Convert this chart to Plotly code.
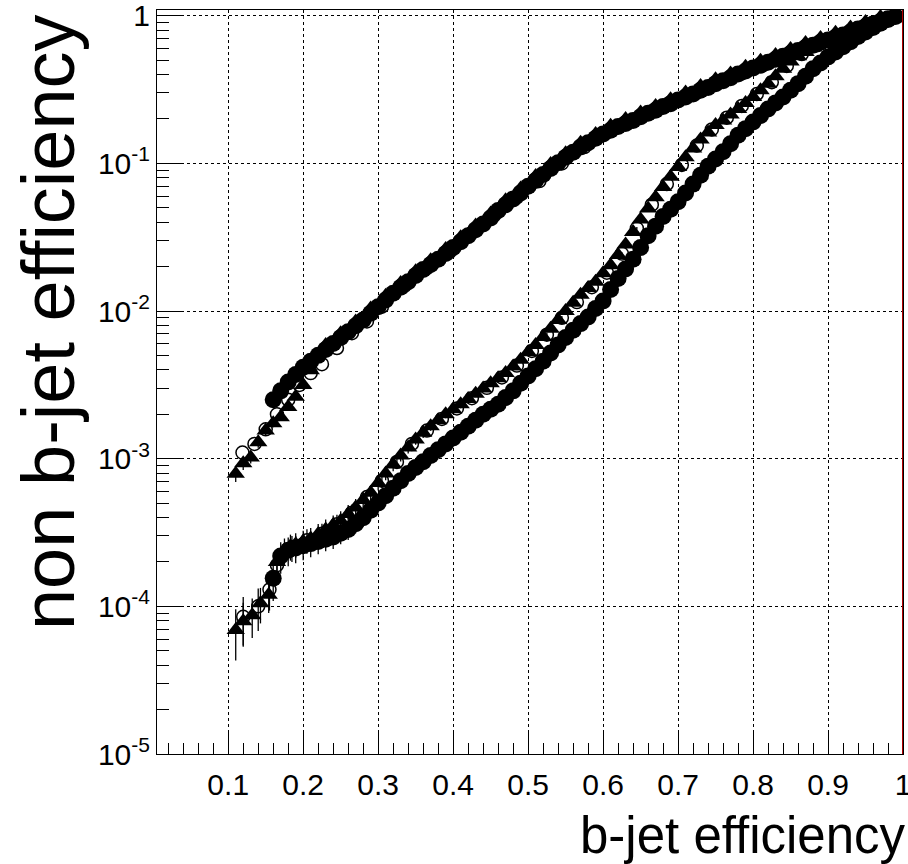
import plotly.graph_objects as go

# ---------------- data ----------------
# upper group (c-jet like curve)
c_circ_x = [0.16, 0.17, 0.18, 0.19, 0.20, 0.21, 0.22, 0.23, 0.24, 0.25, 0.26, 0.27, 0.28, 0.29,
            0.30, 0.31, 0.32, 0.33, 0.34, 0.35, 0.36, 0.37, 0.38, 0.39, 0.40, 0.41, 0.42, 0.43,
            0.44, 0.45, 0.46, 0.47, 0.48, 0.49, 0.50, 0.51, 0.52, 0.53, 0.54, 0.55, 0.56, 0.57,
            0.58, 0.59, 0.60, 0.61, 0.62, 0.63, 0.64, 0.65, 0.66, 0.67, 0.68, 0.69, 0.70, 0.71,
            0.72, 0.73, 0.74, 0.75, 0.76, 0.77, 0.78, 0.79, 0.80, 0.81, 0.82, 0.83, 0.84, 0.85,
            0.86, 0.87, 0.88, 0.89, 0.90, 0.91, 0.92, 0.93, 0.94, 0.95, 0.96, 0.97, 0.98, 0.99]
c_circ_y = [2.51e-3, 2.88e-3, 3.31e-3, 3.72e-3, 4.17e-3, 4.57e-3, 5.01e-3, 5.50e-3, 6.03e-3,
            6.61e-3, 7.24e-3, 7.94e-3, 8.71e-3, 9.66e-3, 0.0107, 0.0119, 0.0132, 0.0145, 0.0158,
            0.0174, 0.0191, 0.0207, 0.0224, 0.0245, 0.0269, 0.0295, 0.0324, 0.0355, 0.0389,
            0.0427, 0.0479, 0.0525, 0.0575, 0.0631, 0.0700, 0.0767, 0.0841, 0.0923, 0.101,
            0.110, 0.119, 0.129, 0.138, 0.148, 0.158, 0.168, 0.178, 0.186, 0.195, 0.207, 0.219,
            0.229, 0.243, 0.254, 0.269, 0.282, 0.295, 0.313, 0.327, 0.347, 0.363, 0.380, 0.403,
            0.422, 0.443, 0.462, 0.484, 0.507, 0.531, 0.556, 0.582, 0.610, 0.631, 0.661, 0.684,
            0.716, 0.741, 0.776, 0.813, 0.847, 0.881, 0.916, 0.955, 0.989]

c_tri_x = [0.11, 0.12, 0.13, 0.14, 0.15, 0.16, 0.17, 0.18, 0.19, 0.20, 0.21, 0.23, 0.25, 0.27,
           0.29, 0.31, 0.33, 0.35, 0.37, 0.39, 0.41, 0.43, 0.45, 0.47, 0.49, 0.51, 0.53, 0.55,
           0.57, 0.59, 0.61, 0.63, 0.65, 0.67, 0.69, 0.71, 0.73, 0.75, 0.77, 0.79, 0.81, 0.83,
           0.85, 0.87, 0.89, 0.91, 0.93, 0.95, 0.97]
c_tri_y = [7.9e-4, 9.3e-4, 1.02e-3, 1.29e-3, 1.55e-3, 1.74e-3, 1.91e-3, 2.24e-3, 2.63e-3, 3.16e-3,
           3.98e-3, 5.89e-3, 7.08e-3, 8.51e-3, 0.0104, 0.0127, 0.0155, 0.0186, 0.0221, 0.0263,
           0.0316, 0.0380, 0.0457, 0.0562, 0.0676, 0.0822, 0.0989, 0.117, 0.138, 0.158, 0.180,
           0.200, 0.221, 0.245, 0.272, 0.302, 0.335, 0.372, 0.407, 0.452, 0.495, 0.543, 0.596,
           0.653, 0.708, 0.767, 0.832, 0.908, 0.982]
c_tri_relerr = [0.12, 0.10, 0.09, 0.08, 0.07, 0.06, 0.05, 0.05, 0.04, 0.04, 0.04]

c_open_x = [0.119, 0.135, 0.15, 0.165, 0.18, 0.195, 0.21, 0.225, 0.245, 0.265, 0.285, 0.305,
            0.335, 0.365, 0.395, 0.425, 0.455, 0.485, 0.515, 0.545, 0.575, 0.605, 0.635, 0.665,
            0.695, 0.725, 0.755, 0.785, 0.815, 0.845, 0.875, 0.905, 0.935, 0.965, 0.985]
c_open_y = [1.10e-3, 1.26e-3, 1.58e-3, 2.0e-3, 2.51e-3, 3.16e-3, 3.80e-3, 4.37e-3, 5.62e-3,
            7.08e-3, 8.5e-3, 0.0107, 0.0148, 0.0195, 0.0251, 0.0339, 0.0447, 0.0589, 0.0759,
            0.100, 0.129, 0.162, 0.191, 0.224, 0.263, 0.302, 0.355, 0.407, 0.468, 0.537, 0.617,
            0.700, 0.794, 0.897, 0.973]

# lower group (light-jet like curve), upper branch with triangles
l_tri_x = [0.110, 0.120, 0.132, 0.143, 0.154, 0.165, 0.175, 0.183,
           0.19, 0.20, 0.21, 0.22, 0.23, 0.24, 0.25, 0.26, 0.27, 0.28, 0.29, 0.30, 0.31, 0.32,
           0.33, 0.34, 0.35, 0.36, 0.37, 0.38, 0.39, 0.40, 0.41, 0.42, 0.43, 0.44, 0.45, 0.46,
           0.47, 0.48, 0.49, 0.50, 0.51, 0.52, 0.53, 0.54, 0.55, 0.56, 0.57, 0.58, 0.59, 0.60,
           0.61, 0.62, 0.63, 0.64, 0.65, 0.66, 0.67, 0.68, 0.69, 0.70, 0.71, 0.72, 0.73, 0.74,
           0.75, 0.76, 0.77, 0.78, 0.79, 0.80, 0.81, 0.82, 0.83, 0.84, 0.85, 0.86, 0.87, 0.88,
           0.89, 0.90, 0.91, 0.92, 0.93, 0.94, 0.95, 0.96, 0.97]
l_tri_y = [6.92e-5, 7.94e-5, 8.71e-5, 1.05e-4, 1.20e-4, 2.00e-4, 2.40e-4, 2.55e-4,
           2.63e-4, 2.75e-4, 2.88e-4, 3.09e-4, 3.31e-4, 3.55e-4, 3.80e-4, 4.22e-4, 4.68e-4,
           5.25e-4, 5.89e-4, 6.84e-4, 7.94e-4, 9.12e-4, 1.05e-3, 1.19e-3, 1.35e-3, 1.50e-3,
           1.66e-3, 1.82e-3, 2.00e-3, 2.16e-3, 2.34e-3, 2.54e-3, 2.75e-3, 2.99e-3, 3.24e-3,
           3.51e-3, 3.80e-3, 4.22e-3, 4.68e-3, 5.25e-3, 5.89e-3, 6.68e-3, 7.59e-3, 8.71e-3,
           0.0100, 0.0114, 0.0129, 0.0143, 0.0158, 0.0180, 0.0204, 0.0240, 0.0282, 0.0343,
           0.0417, 0.0495, 0.0589, 0.0692, 0.0813, 0.0944, 0.110, 0.126, 0.145, 0.162, 0.182,
           0.195, 0.214, 0.234, 0.257, 0.282, 0.313, 0.347, 0.389, 0.437, 0.490, 0.531, 0.569,
           0.610, 0.646, 0.679, 0.716, 0.745, 0.776, 0.813, 0.851, 0.887, 0.923]
l_tri_relerr = [0.38, 0.33, 0.30, 0.27, 0.25, 0.22, 0.20, 0.20,
                0.19, 0.18, 0.18, 0.17, 0.17, 0.16, 0.16, 0.15, 0.14, 0.13,
                0.12, 0.11, 0.10, 0.10, 0.09, 0.09, 0.08, 0.08, 0.07, 0.07,
                0.06, 0.06, 0.06, 0.05, 0.05, 0.05, 0.05, 0.04, 0.04, 0.04,
                0.04, 0.03, 0.03, 0.03, 0.03, 0.03, 0.03, 0.02, 0.02, 0.02]

# lower group, lower branch with filled circles
l_circ_x = [0.160, 0.170,
            0.18, 0.19, 0.20, 0.21, 0.22, 0.23, 0.24, 0.25, 0.26, 0.27, 0.28, 0.29, 0.30, 0.31,
            0.32, 0.33, 0.34, 0.35, 0.36, 0.37, 0.38, 0.39, 0.40, 0.41, 0.42, 0.43, 0.44, 0.45,
            0.46, 0.47, 0.48, 0.49, 0.50, 0.51, 0.52, 0.53, 0.54, 0.55, 0.56, 0.57, 0.58, 0.59,
            0.60, 0.61, 0.62, 0.63, 0.64, 0.65, 0.66, 0.67, 0.68, 0.69, 0.70, 0.71, 0.72, 0.73,
            0.74, 0.75, 0.76, 0.77, 0.78, 0.79, 0.80, 0.81, 0.82, 0.83, 0.84, 0.85, 0.86, 0.87,
            0.88, 0.89, 0.90, 0.91, 0.92, 0.93, 0.94, 0.95, 0.96, 0.97, 0.98]
l_circ_y = [1.55e-4, 2.19e-4,
            2.40e-4, 2.48e-4, 2.57e-4, 2.66e-4, 2.75e-4, 2.85e-4, 2.95e-4, 3.13e-4, 3.31e-4,
            3.63e-4, 3.98e-4, 4.47e-4, 5.01e-4, 5.62e-4, 6.31e-4, 7.08e-4, 7.94e-4, 8.71e-4,
            9.55e-4, 1.05e-3, 1.15e-3, 1.26e-3, 1.38e-3, 1.51e-3, 1.66e-3, 1.82e-3, 2.00e-3,
            2.16e-3, 2.34e-3, 2.60e-3, 2.88e-3, 3.24e-3, 3.63e-3, 4.07e-3, 4.57e-3, 5.19e-3,
            5.89e-3, 6.61e-3, 7.41e-3, 8.22e-3, 9.12e-3, 0.0104, 0.0117, 0.0140, 0.0166, 0.0193,
            0.0224, 0.0269, 0.0324, 0.0376, 0.0437, 0.0490, 0.0550, 0.0631, 0.0724, 0.0832,
            0.0955, 0.107, 0.120, 0.136, 0.155, 0.172, 0.191, 0.211, 0.234, 0.257, 0.282, 0.313,
            0.347, 0.389, 0.437, 0.479, 0.525, 0.569, 0.617, 0.668, 0.724, 0.776, 0.832, 0.891,
            0.944]
l_circ_relerr = [0.30, 0.24,
                 0.22, 0.21, 0.20, 0.19, 0.18, 0.17, 0.17, 0.16, 0.15, 0.14,
                 0.13, 0.12, 0.11, 0.10, 0.10, 0.09, 0.09, 0.08, 0.08, 0.07,
                 0.07, 0.06, 0.06, 0.06, 0.05, 0.05, 0.05, 0.05, 0.04, 0.04,
                 0.04, 0.04, 0.03, 0.03, 0.03, 0.03, 0.03, 0.03, 0.02, 0.02]

l_open_x = [0.120, 0.140, 0.155, 0.165, 0.185, 0.205, 0.225, 0.245, 0.265, 0.285, 0.305, 0.325,
            0.345, 0.365, 0.385, 0.405, 0.425, 0.445, 0.465, 0.485, 0.505, 0.525, 0.545, 0.565,
            0.585, 0.605, 0.625, 0.645, 0.665, 0.685, 0.705, 0.725, 0.745, 0.765, 0.785, 0.805,
            0.825, 0.845, 0.865, 0.885, 0.905, 0.925, 0.945, 0.965, 0.985]
l_open_y = [8.5e-5, 1.0e-4, 1.3e-4, 1.9e-4, 2.5e-4, 2.8e-4, 3.1e-4, 3.6e-4, 4.3e-4, 5.5e-4,
            7.1e-4, 9.5e-4, 1.26e-3, 1.55e-3, 1.86e-3, 2.19e-3, 2.57e-3, 3.02e-3, 3.55e-3,
            4.27e-3, 5.37e-3, 6.92e-3, 9.0e-3, 0.0115, 0.0145, 0.0182, 0.0245, 0.0363, 0.0525,
            0.0724, 0.0977, 0.132, 0.170, 0.204, 0.245, 0.295, 0.355, 0.457, 0.550, 0.631,
            0.700, 0.759, 0.832, 0.902, 0.966]
l_open_relerr = [0.36, 0.32, 0.28, 0.24, 0.20, 0.19, 0.17, 0.16, 0.14, 0.12,
                 0.10, 0.09, 0.08, 0.07, 0.06, 0.06, 0.05, 0.05, 0.04, 0.04,
                 0.04, 0.03, 0.03, 0.03, 0.02, 0.02, 0.02, 0.02]

x_tick_vals = [0.1, 0.2, 0.3, 0.4, 0.5, 0.6, 0.7, 0.8, 0.9, 1.0]
x_tick_text = ["0.1", "0.2", "0.3", "0.4", "0.5", "0.6", "0.7", "0.8", "0.9", "1"]
y_tick_vals = [1e-5, 1e-4, 1e-3, 1e-2, 1e-1, 1]
y_tick_text = ["10<sup>-5</sup>", "10<sup>-4</sup>", "10<sup>-3</sup>",
               "10<sup>-2</sup>", "10<sup>-1</sup>", "1"]

x_title = "b-jet efficiency"
y_title = "non b-jet efficiency"

# ---------------- figure ----------------
FONT = "Liberation Sans, Arial, Helvetica, sans-serif"
fig = go.Figure()


def add(x, y, symbol, size, rel=None, open_=False):
    marker = dict(symbol=symbol, size=size, color="black")
    marker["line"] = dict(color="black", width=1.5) if open_ else dict(width=0)
    kw = {}
    if rel is not None:
        kw["error_y"] = dict(type="data", array=[a * b for a, b in zip(y, rel)],
                             symmetric=True, color="black", thickness=1.3, width=0)
    fig.add_trace(go.Scatter(x=x, y=y, mode="markers", marker=marker,
                             showlegend=False, hoverinfo="skip", **kw))


# lower group
add(l_circ_x, l_circ_y, "circle", 17, l_circ_relerr)
add(l_open_x, l_open_y, "circle-open", 13, l_open_relerr, open_=True)
add(l_tri_x, l_tri_y, "triangle-up", 16, l_tri_relerr)
# upper group
add(c_circ_x, c_circ_y, "circle", 17)
add(c_tri_x, c_tri_y, "triangle-up", 16, c_tri_relerr)
add(c_open_x, c_open_y, "circle-open", 13, open_=True)

minor_y = [k * 10.0 ** n for n in range(-5, 0) for k in range(2, 10)]

fig.update_layout(
    width=908, height=864,
    margin=dict(l=157, r=5, t=10, b=110),
    paper_bgcolor="white", plot_bgcolor="white",
    font=dict(family=FONT, color="black"),
    xaxis=dict(
        range=[0.005, 1.0], showline=True, linecolor="black", linewidth=1, mirror=True,
        automargin=False, ticklabeloverflow="allow",
        tickmode="array", tickvals=x_tick_vals, ticktext=x_tick_text,
        ticks="inside", ticklen=22, tickwidth=1, tickcolor="black",
        tickfont=dict(family=FONT, size=30, color="black"), ticklabelstandoff=4,
        showgrid=True, gridcolor="black", gridwidth=1, griddash="3px,3px",
        minor=dict(ticks="inside", ticklen=11, tickwidth=1, tickcolor="black",
                   dtick=0.02, tick0=0, showgrid=False),
        zeroline=False,
    ),
    yaxis=dict(
        type="log", range=[-5, 0.039], showline=True, linecolor="black", linewidth=1,
        mirror=True, automargin=False, ticklabeloverflow="allow",
        tickmode="array", tickvals=y_tick_vals, ticktext=y_tick_text,
        ticks="inside", ticklen=24, tickwidth=1, tickcolor="black",
        tickfont=dict(family=FONT, size=30, color="black"),
        showgrid=True, gridcolor="black", gridwidth=1, griddash="3px,3px",
        minor=dict(ticks="inside", ticklen=12, tickwidth=1, tickcolor="black",
                   tickmode="array", tickvals=minor_y, showgrid=False),
        zeroline=False,
    ),
    shapes=[dict(type="line", xref="x", yref="paper", x0=1.0, x1=1.0, y0=0, y1=1,
                 line=dict(color="#b00000", width=2), layer="above")],
    annotations=[
        dict(text=x_title, xref="paper", yref="paper", x=0.7855, y=-0.1102,
             xanchor="center", yanchor="middle", showarrow=False,
             font=dict(family=FONT, size=51, color="black")),
        dict(text=y_title, xref="paper", yref="paper", x=-0.1461, y=0.5806,
             xanchor="center", yanchor="middle", textangle=-90, showarrow=False,
             font=dict(family=FONT, size=74, color="black")),
    ],
)

# remove the browser's default 8 px page margin so the 908x864 figure fills the window
fig.write_html(
    "out.html",
    config={"displayModeBar": False},
    post_script="document.body.style.margin='0';document.body.style.padding='0';"
                "document.documentElement.style.overflow='hidden';",
)
